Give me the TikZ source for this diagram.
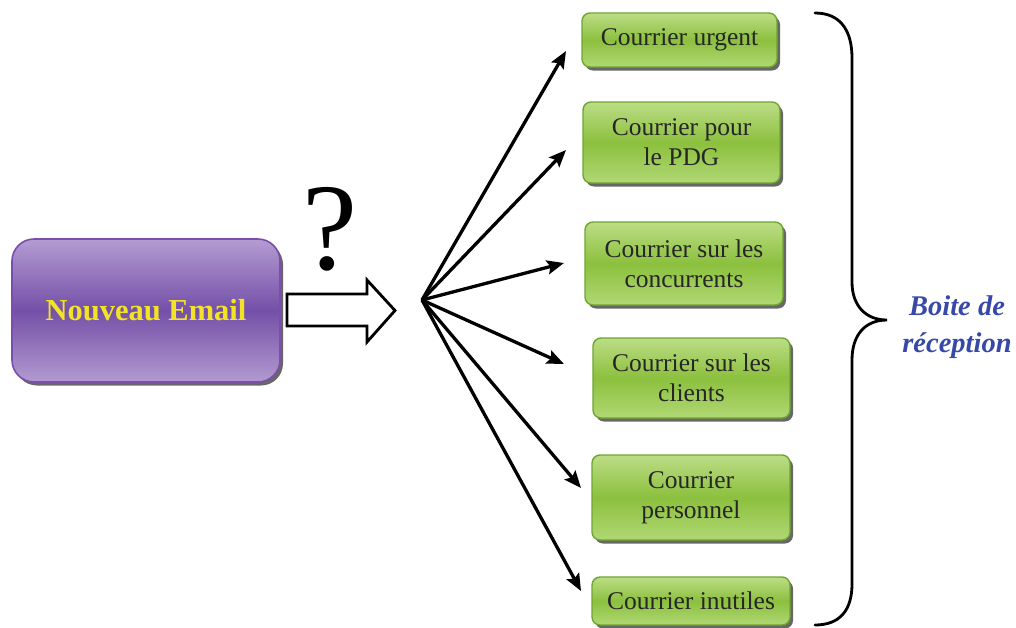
\documentclass[tikz,border=0pt]{standalone}
\usepackage{fontspec}
\setmainfont{Liberation Serif}
\usetikzlibrary{shadows,arrows.meta}

\definecolor{grtop}{HTML}{BCDD86}
\definecolor{grmid}{HTML}{8CC03E}
\definecolor{grbot}{HTML}{B0D874}
\definecolor{grline}{HTML}{6EA62E}
\definecolor{pptop}{HTML}{B49CD2}
\definecolor{ppmid}{HTML}{7450A8}
\definecolor{ppbot}{HTML}{B29AD0}
\definecolor{ppline}{HTML}{7A4EAA}
\definecolor{mailtext}{HTML}{F2E424}
\definecolor{inbox}{HTML}{3848A8}

\tikzset{
  catbox/.style={draw=grline, line width=1.4pt, rounded corners=8pt,
    top color=grtop, bottom color=grbot, middle color=grmid,
    drop shadow={shadow xshift=3pt, shadow yshift=-3.5pt, fill=black!70, opacity=0.85},
    align=center, inner sep=0pt,
    font=\fontsize{25.5}{30}\selectfont, text=black!85},
  mailbox/.style={draw=ppline, line width=1.6pt, rounded corners=22pt,
    top color=pptop, bottom color=ppbot, middle color=ppmid,
    drop shadow={shadow xshift=3pt, shadow yshift=-3.5pt, fill=black!70, opacity=0.85},
    font=\bfseries\fontsize{30.5}{34}\selectfont, text=mailtext},
  fan/.style={line width=3.3pt, -{Stealth[length=17pt, width=14pt, inset=3pt]}},
  hollow/.style={draw=black, line width=2.8pt, fill=white, line join=miter},
}

\begin{document}
\begin{tikzpicture}[x=1pt, y=-1pt]
  \useasboundingbox (0,0) rectangle (1016,627);

  % incoming message
  \node[mailbox, minimum width=268pt, minimum height=143pt] (mail) at (146,310.5) {Nouveau Email};

  % hollow block arrow pointing to the dispatch point
  \draw[hollow] (287,294) -- (367,294) -- (367,280) -- (395,310.5) -- (367,342)
    -- (367,326) -- (287,326) -- cycle;

  \node[font=\fontsize{124}{124}\selectfont] (q) at (330,229) {?};

  % mail categories
  \node[catbox, minimum width=195pt, minimum height=54pt] (c1) at (679.5,40) {Courrier urgent};
  \node[catbox, minimum width=197pt, minimum height=81pt] (c2) at (681.5,142.5) {Courrier pour\\le PDG};
  \node[catbox, minimum width=198pt, minimum height=83pt] (c3) at (684,263.5) {Courrier sur les\\concurrents};
  \node[catbox, minimum width=197pt, minimum height=80pt] (c4) at (691.5,378) {Courrier sur les\\clients};
  \node[catbox, minimum width=198pt, minimum height=85pt] (c5) at (691,497.5) {Courrier\\personnel};
  \node[catbox, minimum width=198pt, minimum height=48pt] (c6) at (691,601) {Courrier inutiles};

  % dispatch fan
  \coordinate (hub) at (422,300);
  \coordinate (t1) at (566,51);
  \coordinate (t2) at (566,150);
  \coordinate (t3) at (564,263);
  \coordinate (t4) at (564,364);
  \coordinate (t5) at (581,488);
  \coordinate (t6) at (581,591);
  \foreach \t in {t1,t2,t3,t4,t5,t6}
    \draw[fan] (hub) -- (\t);

  % inbox brace
  \coordinate (btop) at (815,13);
  \coordinate (btip) at (887,320);
  \coordinate (bbot) at (815,625);
  \draw[line width=2.8pt, line cap=round]
    (btop) .. controls (840,13) and (852,30) .. (852,58)
    -- (852,282) .. controls (852,305) and (865,320) .. (btip)
    .. controls (865,320) and (852,335) .. (852,360)
    -- (852,584) .. controls (852,610) and (840,625) .. (bbot);

  \node[font=\bfseries\itshape\fontsize{28.5}{37}\selectfont, text=inbox, align=center]
    (inboxlabel) at (957,327) {Boite de\\réception};
\end{tikzpicture}
\end{document}
